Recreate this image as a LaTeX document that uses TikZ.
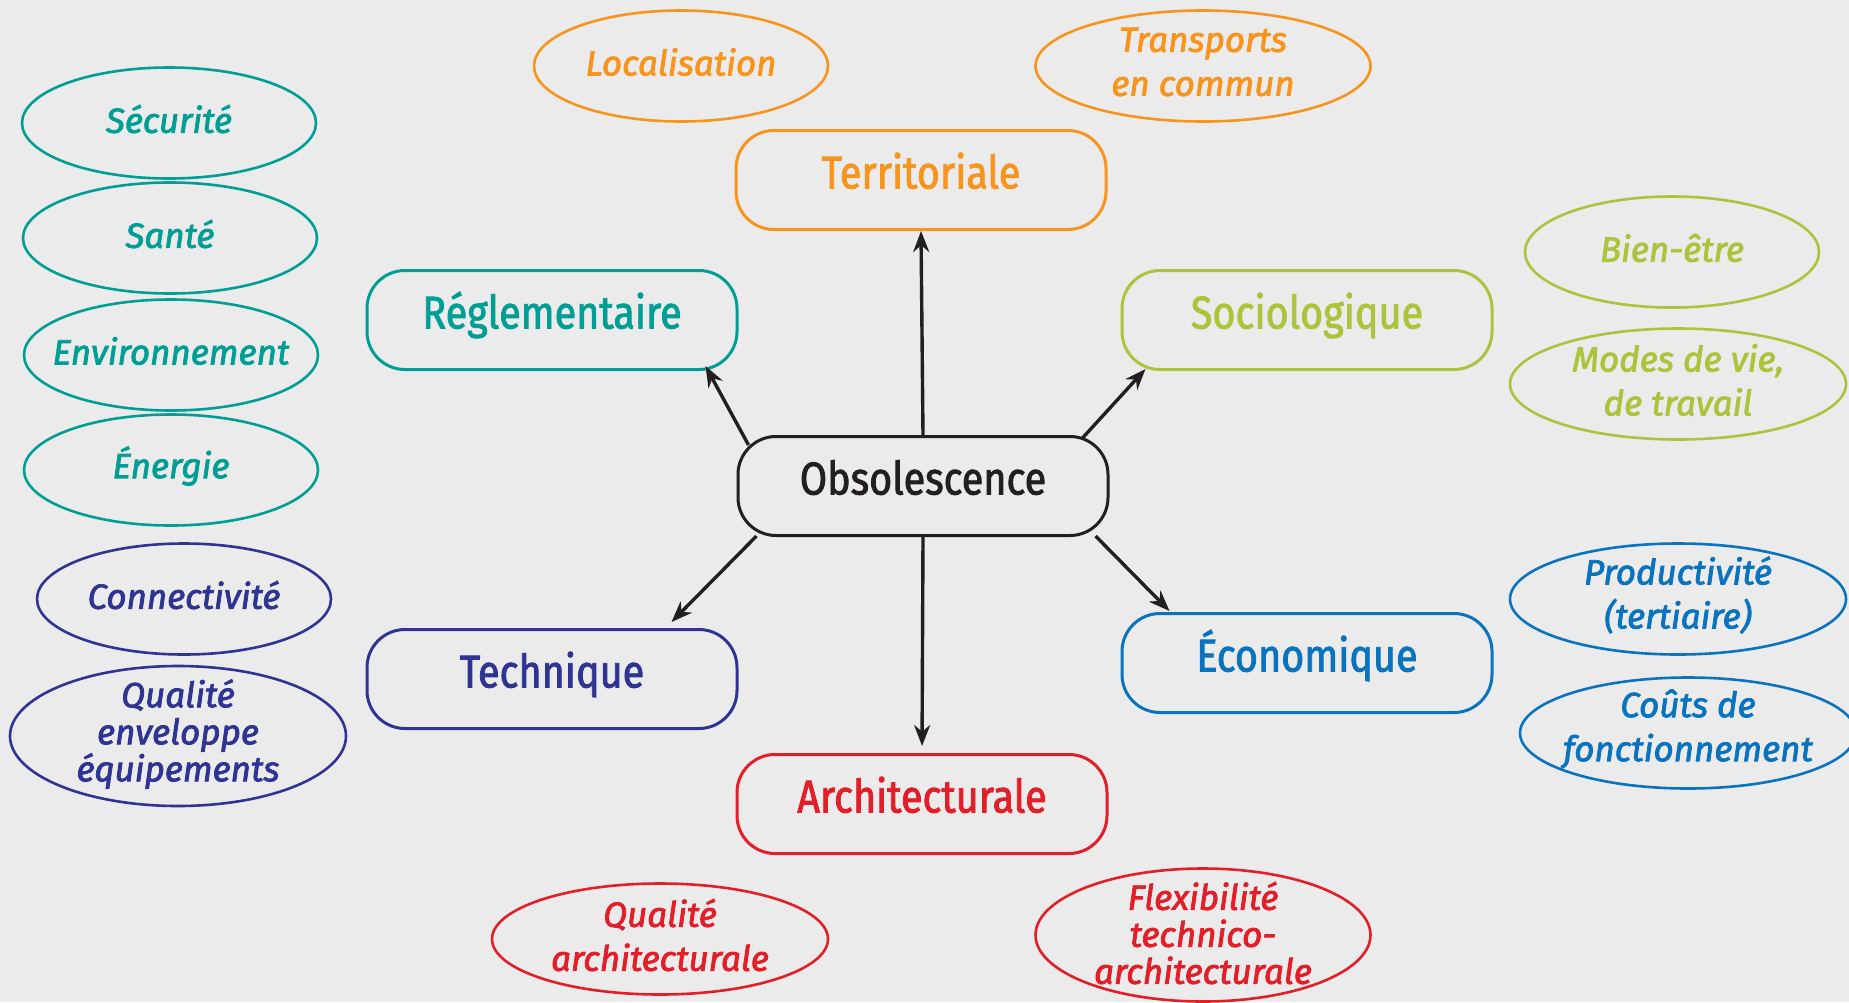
\documentclass[tikz,border=0pt]{standalone}
\usepackage{fontspec}
\setmainfont{Fira Sans}
\newfontfamily\boxfont[FakeStretch=0.86,FakeBold=1.8]{Fira Sans}
\newfontfamily\ovfont{Fira Sans}[ItalicFeatures={FakeBold=2.2}]
\usetikzlibrary{shapes.geometric,arrows.meta,calc}
\definecolor{bgc}{RGB}{235,235,235}
\definecolor{orangec}{RGB}{247,148,30}
\definecolor{tealc}{RGB}{0,158,148}
\definecolor{olivec}{RGB}{170,196,60}
\definecolor{indigoc}{RGB}{46,52,146}
\definecolor{bluec}{RGB}{10,115,190}
\definecolor{redc}{RGB}{226,30,40}
\definecolor{darkc}{RGB}{35,31,32}
\tikzset{
  mainbox/.style={draw=#1, text=#1, rectangle, rounded corners=38pt, line width=3pt,
    minimum width=370pt, minimum height=99pt, inner sep=0pt,
    text height=30pt, text depth=13pt,
    font=\boxfont\fontsize{46}{50}\selectfont},
  oval/.style 2 args={draw=#1, ellipse, line width=2.6pt, inner sep=0pt,
    minimum width=#2},
  otext/.style={text=#1, align=center, yshift=4pt, font=\ovfont\itshape\fontsize{35}{44}\selectfont},
  otextt/.style={text=#1, align=center, yshift=2pt, font=\ovfont\itshape\fontsize{35}{37}\selectfont},
  arr/.style={line width=3.4pt, draw=darkc, -{Stealth[length=21pt,width=16pt]}}
}
\begin{document}
\begin{tikzpicture}[x=1pt,y=-1pt]
\fill[bgc] (0,0) rectangle (1849,1002);
\useasboundingbox (0,0) rectangle (1849,1002);

% main boxes
\node[mainbox=darkc] (obs) at (923,486) {Obsolescence};
\node[mainbox=orangec] (terr) at (921,180) {Territoriale};
\node[mainbox=tealc] (regl) at (552,320) {Réglementaire};
\node[mainbox=olivec] (soc) at (1307,320) {Sociologique};
\node[mainbox=indigoc] (tech) at (552,679) {Technique};
\node[mainbox=bluec] (eco) at (1307,663) {Économique};
\node[mainbox=redc] (arch) at (922,804) {Architecturale};

% ovals - orange
\node[oval={orangec}{294pt}, minimum height=111pt, label={[otext=orangec]center:Localisation}] (loc) at (681,66) {};
\node[oval={orangec}{335pt}, minimum height=111pt, label={[otext=orangec]center:Transports\\en commun}] (transp) at (1203,66) {};
% teal
\node[oval={tealc}{294pt}, minimum height=111pt, label={[otext=tealc]center:Sécurité}] (secu) at (169,123) {};
\node[oval={tealc}{294pt}, minimum height=111pt, label={[otext=tealc]center:Santé}] (sante) at (170,238) {};
\node[oval={tealc}{294pt}, minimum height=111pt, label={[otext=tealc]center:Environnement}] (env) at (171,355) {};
\node[oval={tealc}{294pt}, minimum height=111pt, label={[otext=tealc]center:Énergie}] (ener) at (171,470) {};
% indigo
\node[oval={indigoc}{294pt}, minimum height=111pt, label={[otext=indigoc]center:Connectivité}] (conn) at (184,599) {};
\node[oval={indigoc}{336pt}, minimum height=140pt, label={[otextt=indigoc]center:Qualité\\enveloppe\\équipements}] (qual) at (178,736) {};
% olive
\node[oval={olivec}{294pt}, minimum height=111pt, label={[otext=olivec]center:Bien-être}] (bien) at (1672,252) {};
\node[oval={olivec}{336pt}, minimum height=111pt, label={[otext=olivec]center:Modes de vie,\\de travail}] (modes) at (1678,384) {};
% blue
\node[oval={bluec}{336pt}, minimum height=111pt, label={[otext=bluec]center:Productivité\\(tertiaire)}] (prod) at (1678,599) {};
\node[oval={bluec}{336pt}, minimum height=111pt, label={[otext=bluec]center:Coûts de\\fonctionnement}] (couts) at (1688,733) {};
% red
\node[oval={redc}{336pt}, minimum height=111pt, label={[otext=redc]center:Qualité\\architecturale}] (qarch) at (660,939) {};
\node[oval={redc}{335pt}, minimum height=133pt, label={[otextt=redc]center:Flexibilité\\technico-\\architecturale}] (flex) at (1203,935) {};

% arrows
\draw[arr] (obs.north) -- (terr.south);
\draw[arr] ($(obs.north west)+(12,10)$) -- ($(regl.south east)+(-33,-5)$);
\draw[arr] ($(obs.north east)+(-27,3)$) -- ($(soc.south west)+(25,-2)$);
\draw[arr] ($(obs.south west)+(20,-1)$) -- ($(tech.north east)+(-67,-6)$);
\draw[arr] ($(obs.south east)+(-14,-1)$) -- ($(eco.north west)+(49,-1)$);
\draw[arr, shorten >=7pt] (obs.south) -- (arch.north);
\end{tikzpicture}
\end{document}
